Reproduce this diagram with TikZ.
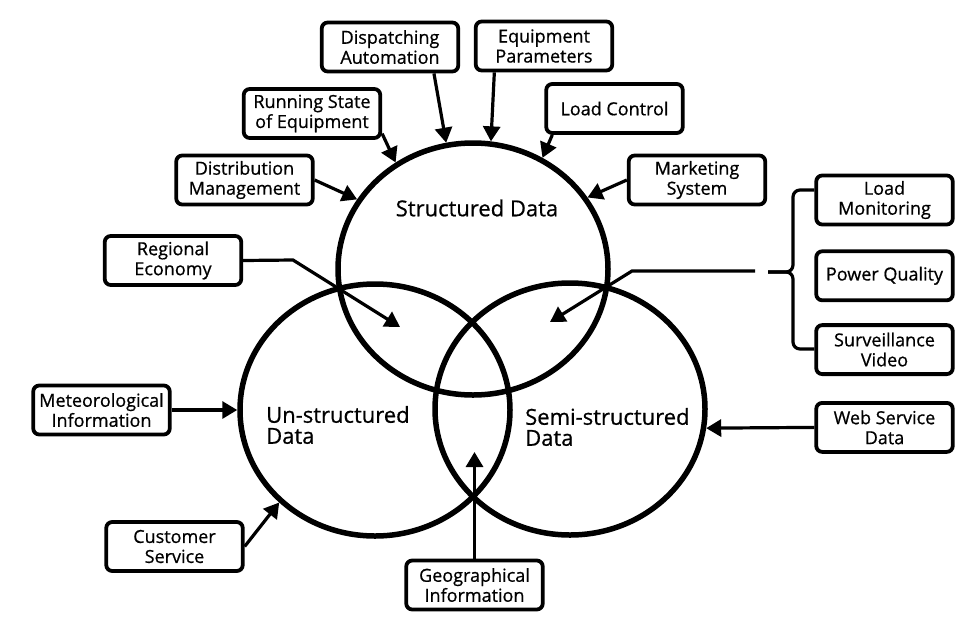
\documentclass[tikz,border=0pt]{standalone}
\usepackage{fontspec}
\setmainfont{Open Sans}[FakeBold=0.7]
\usetikzlibrary{positioning}
\usetikzlibrary{arrows.meta}
\usetikzlibrary{shapes.geometric}

\tikzset{
  datacircle/.style={draw, ellipse, line width=5.5pt, minimum width=270pt, minimum height=252pt, inner sep=0pt},
  circlelabel/.style={font=\fontsize{22}{21}\selectfont, align=left, inner sep=0pt},
  srcbox/.style={draw, rounded corners=6pt, line width=3.8pt, minimum width=136.5pt, minimum height=49pt, inner sep=1pt, align=center, font=\fontsize{18}{20}\selectfont},
  feed/.style={line width=3.2pt, -{Triangle[length=15pt,width=17pt]}},
  brace/.style={line width=3.2pt, rounded corners=7pt},
}

\begin{document}
\begin{tikzpicture}[x=1pt, y=-1pt]
    \useasboundingbox (0,0) rectangle (959,625);

    % data sets
    \node [datacircle] (S) at (473,269) {};
    \node [datacircle] (U) at (375,410) {};
    \node [datacircle] (SS) at (570,409) {};

    \node [circlelabel] (Slab) at (477,208) {Structured Data};
    \node [circlelabel, anchor=west] (Ulab) at (266,425) {Un-structured\\Data};
    \node [circlelabel, anchor=west] (SSlab) at (525,427) {Semi-structured\\Data};

    % sources
    \node [srcbox] (disp) at (390,47) {Dispatching\\Automation};
    \node [srcbox] (equip) at (544,46) {Equipment\\Parameters};
    \node [srcbox] (run) at (312,113.5) {Running State\\of Equipment};
    \node [srcbox] (load) at (614.5,108.5) {Load Control};
    \node [srcbox] (dist) at (244.5,180) {Distribution\\Management};
    \node [srcbox] (mkt) at (697,180) {Marketing\\System};
    \node [srcbox] (reg) at (173,260.5) {Regional\\Economy};
    \node [srcbox] (met) at (101.5,410) {Meteorological\\Information};
    \node [srcbox] (cust) at (174.5,546.5) {Customer\\Service};
    \node [srcbox] (geo) at (474.5,585) {Geographical\\Information};

    \node [srcbox] (lmon) at (884.5,200) {Load\\Monitoring};
    \node [srcbox, below=23pt of lmon] (pq) {Power Quality};
    \node [srcbox, below=21pt of pq] (surv) {Surveillance\\Video};
    \node [srcbox, below=25pt of surv] (web) {Web Service\\Data};

    \coordinate (regbend) at (293,260);
    \coordinate (regtip) at (400,327);
    \coordinate (geotip) at (474.5,452);
    \coordinate (brtop) at (793,190);
    \coordinate (brbot) at (793,349);
    \coordinate (brmid) at (793,272);
    \coordinate (brtip) at (768,272);
    \coordinate (brcut) at (755,271);
    \coordinate (pqbend) at (632,271);
    \coordinate (pqtip) at (550,322);

    % into structured data
    \draw [feed] (disp.-31) -- (S.102);
    \draw [feed] (equip.208) -- (S.82);
    \draw [feed] (run.-16) -- (S.126);
    \draw [feed] (load.203) -- (S.58);
    \draw [feed] (dist.east) -- (S.149);
    \draw [feed] (mkt.west) -- (S.32);
    \draw [feed] (reg.east) -- (regbend) -- (regtip);

    % monitoring group
    \draw [brace] (lmon.west |- brtop) -| (brmid) -- (brtip);
    \draw [brace] (surv.west |- brbot) -| (brmid) -- (brtip);
    \draw [feed] (brcut) -- (pqbend) -- (pqtip);

    % into the other two
    \draw [feed] (met.east) -- (U.180);
    \draw [feed] (cust.east) -- (U.224);
    \draw [feed] (geo.north) -- (geotip);
    \draw [feed] (web.west) -- (SS.-8);
\end{tikzpicture}
\end{document}
